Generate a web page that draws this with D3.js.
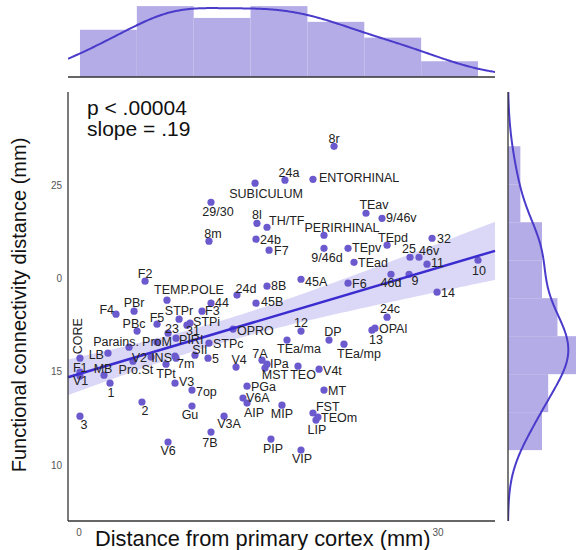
<!DOCTYPE html>
<html><head><meta charset="utf-8">
<script src="https://cdn.jsdelivr.net/npm/d3@7"></script>
<style>body{margin:0;background:#fff}svg{display:block}text{font-family:"Liberation Sans",Arial,sans-serif}</style>
</head><body><svg id="c" width="577" height="550"></svg>
<script>
// ---------------- data ----------------
const areaNames = ["8r","24a","ENTORHINAL","SUBICULUM","29/30","8l","TH/TF","8m","24b","F7",
  "TEav","9/46v","PERIRHINAL","9/46d","TEpv","TEpd","32","TEad","25","46v",
  "11","10","46d","9","45A","F6","14","8B","45B","24d",
  "F2","TEMP.POLE","44","F3","STPr","STPi","31","PBr","F4","F5",
  "PBc","23","OPRO","PIRI","ProM","Parains.","STPc","CORE","LB","SII",
  "5","INS","V2","7m","Pro.St","MB","F1","V1","1","2",
  "3","TPt","V3","7op","V4","7A","IPa","MST","PGa","V6A",
  "AIP","Gu","V3A","7B","V6","PIP","VIP","MIP","LIP","FST",
  "TEOm","MT","V4t","TEO","TEa/mp","TEa/ma","DP","12","13","OPAl","24c"];
const distanceFromPrimary = [21.31,17.21,19.55,14.71,11.03,14.87,15.71,10.86,14.79,15.88,
  23.98,25.32,20.47,20.47,22.48,25.74,29.50,22.98,27.66,28.41,
  29.08,33.34,26.07,27.58,18.55,22.48,29.92,15.71,14.79,13.20,
  5.52,7.35,11.03,10.28,8.36,9.28,9.02,4.60,3.09,6.52,
  4.85,7.44,12.87,8.11,6.52,4.18,10.86,0.08,2.42,9.69,
  10.78,8.02,6.02,8.11,4.51,2.09,0.08,0.08,2.59,5.26,
  0.08,7.27,8.02,9.44,13.12,15.29,15.71,15.54,14.04,13.70,
  14.04,9.44,12.12,11.03,7.44,16.04,18.55,16.96,19.80,19.55,
  19.97,20.47,20.06,18.30,22.14,17.38,20.89,18.55,24.48,24.73,25.74];
const functionalDistance = [27.09,25.27,25.32,25.11,24.09,22.96,22.75,22.00,22.11,21.52,
  23.50,23.23,22.32,21.62,21.62,21.79,22.16,20.87,21.14,21.14,
  20.77,20.98,20.23,20.23,19.96,19.75,19.27,19.59,18.68,19.11,
  19.86,18.84,18.68,18.25,17.82,17.61,17.50,18.25,18.09,17.55,
  17.18,17.07,17.29,16.80,16.59,16.32,16.54,15.73,16.00,15.89,
  15.73,15.84,15.79,15.73,15.57,14.82,14.98,14.77,14.39,13.38,
  12.62,15.41,14.39,14.02,15.25,15.62,15.41,15.20,14.23,13.59,
  13.32,13.16,12.62,11.77,11.23,11.39,10.80,13.21,12.41,12.79,
  12.57,14.02,15.14,15.30,16.48,16.70,16.70,17.18,17.23,17.34,17.93];
const topHistCounts = [12,18,15,18,14,10,4];          // x bins, left to right
const rightHistCounts = [11,13,22,16,11,11,4,4];      // y bins, bottom to top
const xTickValues = [0,30];
const xTickLabels = ["0","30"];
const yTickValues = [10,15,20,25];
const yTickLabels = ["10","15","0","25"];
const statLines = ["p < .00004","slope = .19"];
const regSlope = 0.19, regIntercept = 14.88;
const ciMinHalf = 0.6, ciCenterX = 11.3, ciGrowth = 0.0613;
const xTitle = "Distance from primary cortex (mm)";
const yTitle = "Functional connectivity distance (mm)";

// ---------------- label layout (anchor, dx, dy in px) ----------------
const labelPlacement = {
 "8r":["m",0,-8],"24a":["m",4,-8],"ENTORHINAL":["s",6,-2],"SUBICULUM":["m",11,10],"29/30":["m",7,9],
 "8l":["m",0,-9],"TH/TF":["s",2,-7],"8m":["m",4,-8],"24b":["s",4,0],"F7":["s",5,0],
 "TEav":["m",8,-9],"9/46v":["s",4,-1],"PERIRHINAL":["m",18,-8],"9/46d":["m",3,9],"TEpv":["s",4,-1],
 "TEpd":["m",6,-8],"32":["s",5,0],"TEad":["s",4,0],"25":["m",-1,-9],"46v":["s",0,-7],
 "11":["s",4,-2],"10":["m",1,10],"46d":["m",0,8],"9":["m",6,6],"45A":["s",4,2],
 "F6":["s",4,0],"14":["s",4,0],"8B":["s",4,-1],"45B":["s",5,-2],"24d":["m",9,-7],
 "F2":["m",0,-8],"TEMP.POLE":["m",22,-11],"44":["s",4,-1],"F3":["s",3,-1],"STPr":["m",0,-9],
 "STPi":["s",3,-2],"31":["m",6,5],"PBr":["m",0,-9],"F4":["e",-2,-5],"F5":["m",0,-7],
 "PBc":["m",-3,-8],"23":["m",4,-5],"OPRO":["s",4,1],"PIRI":["s",3,1],"ProM":["m",0,-1],
 "Parains.":["e",10,-6],"STPc":["s",4,0],"CORE":["v",-2,-22],"LB":["e",-4,1],"SII":["m",5,-6],
 "5":["s",4,0],"INS":["e",-3,1],"V2":["e",-4,0],"7m":["s",1,5],"Pro.St":["m",3,8],
 "MB":["m",-1,-7],"F1":["s",-7,-5],"V1":["s",-7,4],"1":["m",1,9],"2":["m",3,9],
 "3":["m",4,8],"TPt":["m",0,9],"V3":["s",4,-2],"7op":["s",4,1],"V4":["m",3,-8],
 "7A":["m",-2,-7],"IPa":["s",3,-1],"MST":["m",10,6],"PGa":["s",4,0],"V6A":["s",3,-1],
 "AIP":["m",7,9],"Gu":["m",-2,8],"V3A":["m",5,7],"7B":["m",-1,10],"V6":["m",0,8],
 "PIP":["m",2,9],"VIP":["m",1,8],"MIP":["m",0,8],"LIP":["m",1,9],"FST":["s",3,-7],
 "TEOm":["s",3,0],"MT":["s",4,0],"V4t":["s",4,1],"TEO":["m",5,8],"TEa/mp":["m",15,9],
 "TEa/ma":["m",12,8],"DP":["m",4,-9],"12":["m",0,-9],"13":["m",4,9],"OPAl":["s",4,0],"24c":["m",3,-9]
};

const COL = {dot:"#6a5acd", bar:"#b4ace6", kde:"#4a3bcb", reg:"#3b2cd0", band:"#5a4bd6", axis:"#333", tick:"#555", text:"#222"};

const svg = d3.select("#c");
const x = d3.scaleLinear().domain([-0.92, 34.76]).range([68, 495]);
const y = d3.scaleLinear().domain([7, 30]).range([521, 92]);
const topY = d3.scaleLinear().domain([0, 19.3]).range([77, 1]);
const rightX = d3.scaleLinear().domain([0, 22]).range([508, 576]);

const pts = areaNames.map((nm,i)=>({name:nm, x:distanceFromPrimary[i], y:functionalDistance[i]}));

// clip paths
const defs = svg.append("defs");
defs.append("clipPath").attr("id","clipTop").append("rect").attr("x",68).attr("y",0).attr("width",427).attr("height",77);
defs.append("clipPath").attr("id","clipRight").append("rect").attr("x",508).attr("y",92).attr("width",80).attr("height",429);

// ---------------- top marginal ----------------
const [xmin,xmax] = d3.extent(distanceFromPrimary);
const xEdges = d3.range(topHistCounts.length+1).map(i=>xmin + i*(xmax-xmin)/topHistCounts.length);
const gTop = svg.append("g");
gTop.selectAll("rect").data(topHistCounts).join("rect")
  .attr("x",(d,i)=>x(xEdges[i])).attr("width",(d,i)=>x(xEdges[i+1])-x(xEdges[i]))
  .attr("y",d=>topY(d)).attr("height",d=>topY(0)-topY(d))
  .attr("fill",COL.bar);

function kde(values, grid, binW){
  const h = d3.deviation(values)*Math.pow(values.length,-0.2);
  return grid.map(g=>{
    const dens = d3.mean(values, v=>Math.exp(-0.5*((g-v)/h)**2)/(h*Math.sqrt(2*Math.PI)));
    return [g, dens*values.length*binW];
  });
}
const gridX = d3.range(201).map(i=>x.domain()[0] + i*(x.domain()[1]-x.domain()[0])/200);
const kdeTop = kde(distanceFromPrimary, gridX, (xmax-xmin)/topHistCounts.length);
gTop.append("path").attr("clip-path","url(#clipTop)")
  .attr("d", d3.line().x(d=>x(d[0])).y(d=>topY(d[1])).curve(d3.curveBasis)(kdeTop))
  .attr("fill","none").attr("stroke",COL.kde).attr("stroke-width",2);
gTop.append("line").attr("x1",68).attr("x2",495).attr("y1",77).attr("y2",77).attr("stroke",COL.axis).attr("stroke-width",1.3);

// ---------------- right marginal ----------------
const [ymin,ymax] = d3.extent(functionalDistance);
const yEdges = d3.range(rightHistCounts.length+1).map(i=>ymin + i*(ymax-ymin)/rightHistCounts.length);
const gR = svg.append("g");
gR.selectAll("rect").data(rightHistCounts).join("rect")
  .attr("y",(d,i)=>y(yEdges[i+1])).attr("height",(d,i)=>y(yEdges[i])-y(yEdges[i+1]))
  .attr("x",rightX(0)).attr("width",d=>rightX(d)-rightX(0))
  .attr("fill",COL.bar);
const gridY = d3.range(201).map(i=>y.domain()[0] + i*(y.domain()[1]-y.domain()[0])/200);
const kdeR = kde(functionalDistance, gridY, (ymax-ymin)/rightHistCounts.length);
gR.append("path").attr("clip-path","url(#clipRight)")
  .attr("d", d3.line().x(d=>rightX(d[1])).y(d=>y(d[0])).curve(d3.curveBasis)(kdeR))
  .attr("fill","none").attr("stroke",COL.kde).attr("stroke-width",2);
gR.append("line").attr("x1",508).attr("x2",508).attr("y1",92).attr("y2",521).attr("stroke",COL.axis).attr("stroke-width",1.3);

// ---------------- main plot ----------------
const g = svg.append("g");
const [d0,d1] = x.domain();
const bandX = d3.range(101).map(i=>d0 + i*(d1-d0)/100);
const half = v => Math.sqrt(ciMinHalf**2 + (ciGrowth*(v-ciCenterX))**2);
g.append("path")
  .attr("d", d3.area().x(v=>x(v)).y0(v=>y(regIntercept+regSlope*v-half(v))).y1(v=>y(regIntercept+regSlope*v+half(v)))(bandX))
  .attr("fill",COL.band).attr("fill-opacity",0.22);

g.selectAll("circle").data(pts).join("circle")
  .attr("cx",d=>x(d.x)).attr("cy",d=>y(d.y)).attr("r",3.6).attr("fill",COL.dot);

g.append("line")
  .attr("x1",x(d0)).attr("y1",y(regIntercept+regSlope*d0))
  .attr("x2",x(d1)).attr("y2",y(regIntercept+regSlope*d1))
  .attr("stroke",COL.reg).attr("stroke-width",2.5);

// labels
const anchorMap = {s:"start", e:"end", m:"middle"};
pts.forEach(p=>{
  const pl = labelPlacement[p.name];
  const px = x(p.x)+pl[1], py = y(p.y)+pl[2];
  if(pl[0]==="v"){
    g.append("text").attr("transform",`translate(${px},${py}) rotate(-90)`)
      .attr("text-anchor","middle").attr("dy","0.36em")
      .attr("font-size",12.5).attr("fill",COL.text).text(p.name);
  } else {
    g.append("text").attr("x",px).attr("y",py).attr("dy","0.36em")
      .attr("text-anchor",anchorMap[pl[0]])
      .attr("font-size",12.5).attr("fill",COL.text).text(p.name);
  }
});

// axes lines
svg.append("line").attr("x1",68).attr("x2",68).attr("y1",92).attr("y2",521).attr("stroke",COL.axis).attr("stroke-width",1.3);
svg.append("line").attr("x1",68).attr("x2",495).attr("y1",521).attr("y2",521).attr("stroke",COL.axis).attr("stroke-width",1.3);

// tick labels
svg.selectAll("text.yt").data(yTickValues).join("text").attr("class","yt")
  .attr("x",62).attr("y",d=>y(d)).attr("dy","0.35em").attr("text-anchor","end")
  .attr("font-size",10).attr("fill",COL.tick).text((d,i)=>yTickLabels[i]);
svg.selectAll("text.xt").data(xTickValues).join("text").attr("class","xt")
  .attr("x",d=>x(d)).attr("y",532).attr("dy","0.35em").attr("text-anchor","middle")
  .attr("font-size",10).attr("fill",COL.tick).text((d,i)=>xTickLabels[i]);

// titles
svg.append("text").attr("x",95).attr("y",546).attr("font-size",21.8).attr("fill","#111").text(xTitle);
svg.append("text").attr("transform","translate(26,305) rotate(-90)").attr("text-anchor","middle")
  .attr("font-size",20).attr("fill","#111").text(yTitle);

// stats
svg.selectAll("text.st").data(statLines).join("text").attr("class","st")
  .attr("x",87).attr("y",(d,i)=>115+i*21).attr("font-size",21).attr("fill","#111").text(d=>d);
</script>
</body></html>
